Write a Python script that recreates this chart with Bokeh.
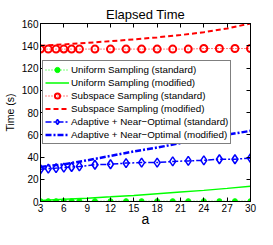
from bokeh.plotting import figure
from bokeh.models import LinearAxis, FixedTicker, Legend, LegendItem, Range1d
from bokeh.embed import file_html
from bokeh.resources import INLINE

a_std = [3, 4, 5, 6, 7, 8, 10, 12, 14, 16, 18, 20, 22, 24, 26, 28, 30]
uniform_std = [0.3] * 17
subspace_std = [137, 137, 137, 137, 137, 137, 137, 137, 137, 137, 137, 137, 137, 137.5, 137.5, 137.5, 137.5]
adaptive_std = [29, 29.5, 30, 30.5, 31, 31.5, 33, 33.5, 34.5, 35, 35, 36, 36.5, 37, 38, 38, 39]

a_mod = [3, 6, 9, 12, 15, 18, 21, 24, 27, 30]
uniform_mod = [1, 2, 3, 4.2, 5.5, 7, 8.5, 10, 11.8, 13.7]
subspace_mod = [140, 141.2, 142.6, 144.1, 145.7, 147.5, 149.6, 152.2, 155.5, 160]
adaptive_mod = [31, 33.5, 37, 41, 45, 48.5, 52.5, 56.5, 60, 63.5]

x_ticks = [3, 6, 9, 12, 15, 18, 21, 24, 27, 30]
y_ticks = [0, 20, 40, 60, 80, 100, 120, 140, 160]

FONT = "Liberation Sans"
GREEN = "#00ff00"
RED = "#ff0000"
BLUE = "#0000ff"

p = figure(width=257, height=229, output_backend="svg", toolbar_location=None,
           x_range=Range1d(3, 30), y_range=Range1d(0, 160),
           min_border_left=35, min_border_right=7, min_border_top=23, min_border_bottom=0,
           title="Elapsed Time")
p.title.align = "center"
p.title.text_font = FONT
p.title.text_font_size = "13px"
p.title.text_font_style = "normal"
p.title.text_color = "black"
p.title.standoff = 4
p.title.offset = 0

p.grid.visible = False
p.outline_line_color = "black"
p.outline_line_width = 1

for ax in [p.xaxis[0], p.yaxis[0]]:
    ax.major_tick_in = 4
    ax.major_tick_out = 0
    ax.minor_tick_line_color = None
    ax.major_tick_line_color = "black"
    ax.major_label_text_font = FONT
    ax.major_label_text_font_size = "10px"
    ax.major_label_text_color = "black"
    ax.axis_label_text_font = FONT
    ax.axis_label_text_font_style = "normal"
    ax.axis_label_text_color = "black"
    ax.axis_line_color = "black"
p.xaxis[0].ticker = FixedTicker(ticks=x_ticks)
p.yaxis[0].ticker = FixedTicker(ticks=y_ticks)
p.xaxis[0].axis_label = "a"
p.xaxis[0].axis_label_text_font_size = "14px"
p.xaxis[0].axis_label_standoff = -4
p.xaxis[0].major_label_standoff = 2
p.yaxis[0].axis_label = "Time (s)"
p.yaxis[0].axis_label_text_font_size = "10.5px"
p.yaxis[0].axis_label_standoff = 3
p.yaxis[0].major_label_standoff = 2

blank_x = {t: "" for t in x_ticks}
blank_y = {t: "" for t in y_ticks}
top = LinearAxis(ticker=FixedTicker(ticks=x_ticks), major_label_overrides=blank_x,
                 major_label_standoff=0, major_label_text_font_size="1px",
                 major_tick_in=4, major_tick_out=0, minor_tick_line_color=None,
                 major_tick_line_color="black", axis_line_color="black")
right = LinearAxis(ticker=FixedTicker(ticks=y_ticks), major_label_overrides=blank_y,
                   major_label_standoff=0, major_label_text_font_size="1px",
                   major_tick_in=4, major_tick_out=0, minor_tick_line_color=None,
                   major_tick_line_color="black", axis_line_color="black")
p.add_layout(top, "above")
p.add_layout(right, "right")

r1l = p.line(a_std, uniform_std, line_color=GREEN, line_width=1, line_dash="1 2")
r1m = p.scatter(a_std, uniform_std, marker="circle", size=5, fill_color=GREEN, line_color=GREEN)
r2 = p.line(a_mod, uniform_mod, line_color=GREEN, line_width=1.5)
r3l = p.line(a_std, subspace_std, line_color=RED, line_width=1, line_dash="1 2")
r3m = p.scatter(a_std, subspace_std, marker="circle", size=7, fill_color=None, line_color=RED, line_width=2)
r4 = p.line(a_mod, subspace_mod, line_color=RED, line_width=2, line_dash="5 3")
r5l = p.line(a_std, adaptive_std, line_color=BLUE, line_width=1.5, line_dash="6 2 2 2")
r5m = p.scatter(a_std, adaptive_std, marker="diamond", size=9, fill_color=None, line_color=BLUE, line_width=1.5)
r6 = p.line(a_mod, adaptive_mod, line_color=BLUE, line_width=2.5, line_dash="6 2 2 2")

legend = Legend(items=[
    LegendItem(label="Uniform Sampling (standard)", renderers=[r1l, r1m]),
    LegendItem(label="Uniform Sampling (modified)", renderers=[r2]),
    LegendItem(label="Subspace Sampling (standard)", renderers=[r3l, r3m]),
    LegendItem(label="Subspace Sampling (modified)", renderers=[r4]),
    LegendItem(label="Adaptive + Near\u2212Optimal (standard)", renderers=[r5l, r5m]),
    LegendItem(label="Adaptive + Near\u2212Optimal (modified)", renderers=[r6]),
], location=(2, 57))
legend.label_text_font = FONT
legend.label_text_font_size = "9.8px"
legend.label_text_color = "black"
legend.label_height = 13
legend.glyph_height = 13
legend.glyph_width = 24
legend.spacing = 0
legend.padding = 2
legend.margin = 0
legend.label_standoff = 2
legend.border_line_color = "black"
legend.border_line_width = 1
legend.background_fill_alpha = 1
p.add_layout(legend, "center")

open("out.html", "w").write(file_html(p, INLINE))
